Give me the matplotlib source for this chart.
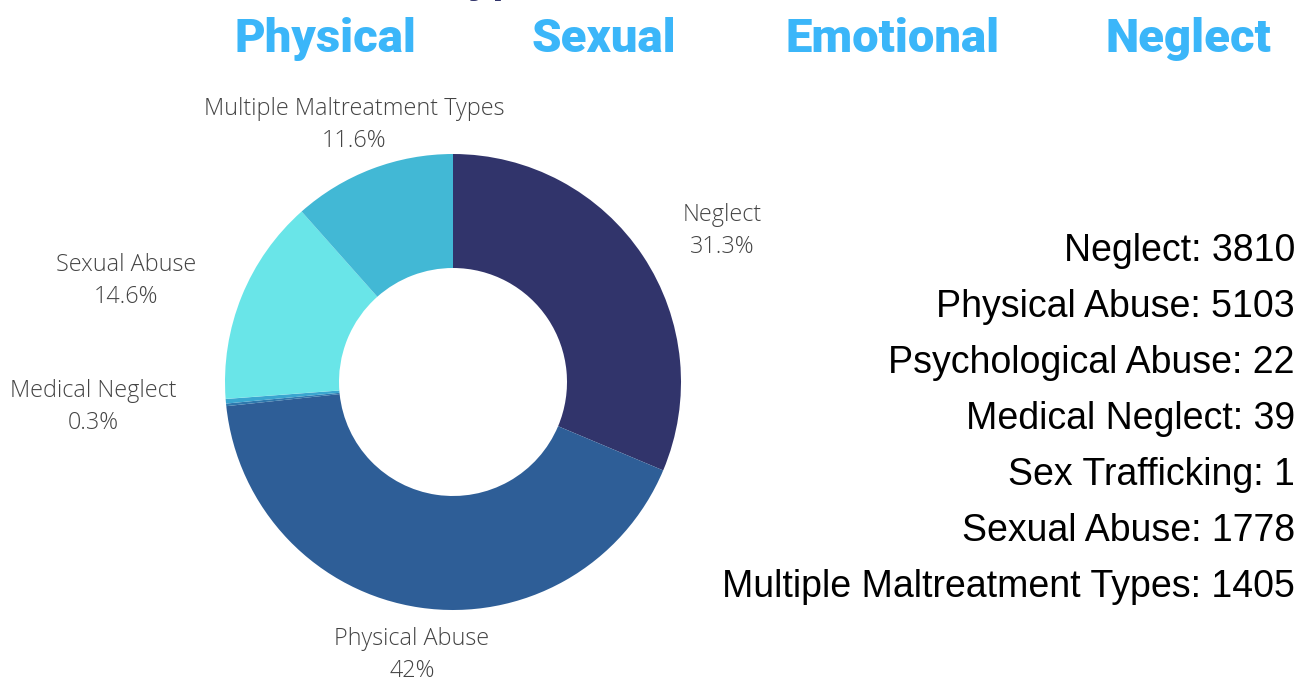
import matplotlib.pyplot as plt

# datos
tipos = ["Neglect", "Physical Abuse", "Psychological Abuse", "Medical Neglect",
         "Sex Trafficking", "Sexual Abuse", "Multiple Maltreatment Types"]
casos = [3810, 5103, 22, 39, 1, 1778, 1405]
colores = ["#31346b", "#2e5e97", "#2f78ad", "#3aa6d0", "#4fc4de", "#69e5e8", "#42b8d5"]

encabezados = ["Physical", "Sexual", "Emotional", "Neglect"]

# posiciones de las etiquetas del anillo (pixeles, y hacia abajo)
pos_etiquetas = {
    "Neglect": (722, 231),
    "Physical Abuse": (412, 655),
    "Medical Neglect": (93, 407),
    "Sexual Abuse": (126, 281),
    "Multiple Maltreatment Types": (354, 125),
}

W, H = 1299, 681
fig = plt.figure(figsize=(W / 100, H / 100), dpi=100)
ax = fig.add_axes([0, 0, 1, 1])
ax.set_xlim(0, W)
ax.set_ylim(0, H)
ax.set_aspect("equal")
ax.axis("off")

# anillo
ax.pie(casos, colors=colores, startangle=90, counterclock=False,
       center=(453, H - 382), radius=228,
       wedgeprops=dict(width=114, linewidth=0))
ax.set_xlim(0, W)
ax.set_ylim(0, H)

total = sum(casos)
for nombre, valor in zip(tipos, casos):
    if nombre not in pos_etiquetas:
        continue
    pct = round(valor / total * 100, 1)
    txt = f"{pct:g}%"
    x, y = pos_etiquetas[nombre]
    ax.text(x, H - y, f"{nombre}\n{txt}", ha="center", va="center",
            fontsize=16.8, family="Open Sans", fontweight="light",
            color="#444444", linespacing=1.4)

# lista de totales a la derecha
for i, (nombre, valor) in enumerate(zip(tipos, casos)):
    ax.text(1295, H - (251 + 56 * i), f"{nombre}: {valor}", ha="right", va="center",
            fontsize=27, family="Liberation Sans", color="black")

# encabezados
for x, t in zip([325, 604, 893, 1188], encabezados):
    ax.text(x, H - 52, t, ha="center", va="baseline", fontsize=34,
            family="Roboto", fontweight="black", color="#3bb6f9")

# titulo cortado arriba
fig.text(506 / W, 1 + 8 / H, "Types", ha="center", va="baseline",
         fontsize=31, family="Liberation Sans", fontweight="bold", color="#31346b")

fig.savefig("out.png", dpi=100)
